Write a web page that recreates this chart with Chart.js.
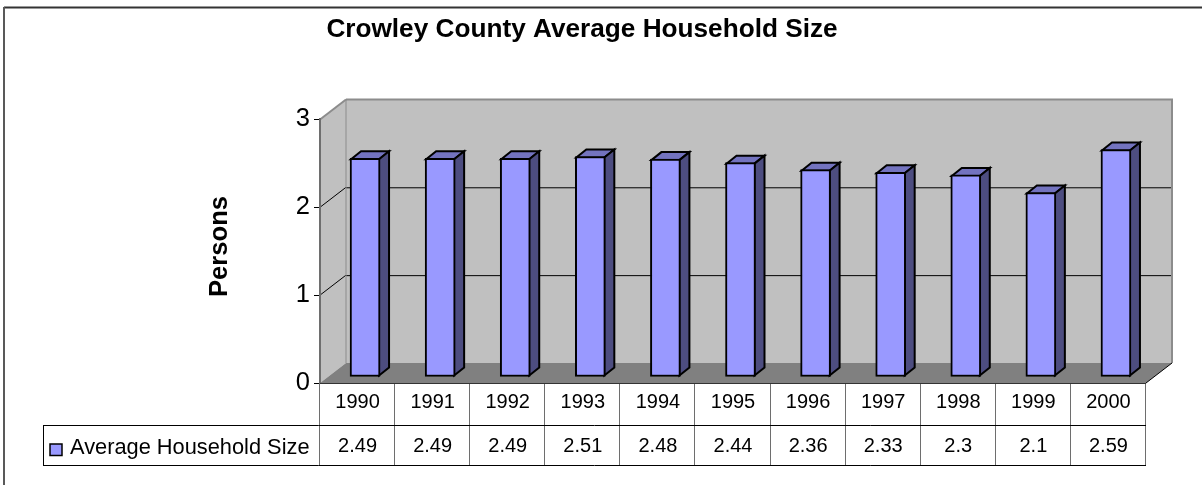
<!DOCTYPE html>
<html>
<head>
<meta charset="utf-8">
<title>Crowley County Average Household Size</title>
<script src="https://cdn.jsdelivr.net/npm/chart.js@4"></script>
<style>
  html, body { margin: 0; padding: 0; background: #fff; overflow: hidden; }
  canvas { display: block; }
</style>
</head>
<body>
<canvas id="myChart" width="1202" height="485"></canvas>
<script>
const years = ['1990', '1991', '1992', '1993', '1994', '1995', '1996', '1997', '1998', '1999', '2000'];
const householdSize = [2.49, 2.49, 2.49, 2.51, 2.48, 2.44, 2.36, 2.33, 2.3, 2.1, 2.59];
const valueLabels = ['2.49', '2.49', '2.49', '2.51', '2.48', '2.44', '2.36', '2.33', '2.3', '2.1', '2.59'];
const yTicks = [0, 1, 2, 3];
const seriesName = 'Average Household Size';

const FONT = '"Liberation Sans", Arial, sans-serif';
// wall depth of the fake 3D box, and how far the bars sit inside it
const DEPTH_X = 26, DEPTH_Y = -20;
const BAR_DX = 7.5, BAR_DY = -6;
const BAR_SIDE_X = 10, BAR_SIDE_Y = -8;

function poly(ctx, pts, fill, stroke, lw) {
  ctx.beginPath();
  pts.forEach((p, i) => i ? ctx.lineTo(p[0], p[1]) : ctx.moveTo(p[0], p[1]));
  ctx.closePath();
  if (fill) { ctx.fillStyle = fill; ctx.fill(); }
  if (stroke) { ctx.strokeStyle = stroke; ctx.lineWidth = lw; ctx.stroke(); }
}

function line(ctx, x1, y1, x2, y2, color, lw) {
  ctx.beginPath();
  ctx.moveTo(x1, y1);
  ctx.lineTo(x2, y2);
  ctx.strokeStyle = color;
  ctx.lineWidth = lw;
  ctx.stroke();
}

const box3d = {
  id: 'box3d',
  beforeDraw(chart) {
    const { ctx, scales: { x, y } } = chart;
    const l = x.left, r = x.right;
    const top = y.getPixelForValue(3), bot = y.getPixelForValue(0);
    ctx.save();
    // outer frame, only the top and left edges are in the picture
    ctx.fillStyle = '#fff';
    ctx.fillRect(0, 0, chart.width, chart.height);
    line(ctx, 4, 7.5, chart.width, 7.5, '#333', 2);
    line(ctx, 4, 7, 4, chart.height, '#595959', 2);

    // walls and floor
    poly(ctx, [[l + DEPTH_X, top + DEPTH_Y], [r + DEPTH_X, top + DEPTH_Y], [r + DEPTH_X, bot + DEPTH_Y], [l + DEPTH_X, bot + DEPTH_Y]], '#c0c0c0');
    poly(ctx, [[l, top], [l + DEPTH_X, top + DEPTH_Y], [l + DEPTH_X, bot + DEPTH_Y], [l, bot]], '#c0c0c0');
    poly(ctx, [[l, bot], [r, bot], [r + DEPTH_X, bot + DEPTH_Y], [l + DEPTH_X, bot + DEPTH_Y]], '#808080');

    // gridlines, on the side wall then the back wall
    yTicks.filter(v => v > 0 && v < 3).forEach(v => {
      const py = y.getPixelForValue(v);
      line(ctx, l, py, l + DEPTH_X, py + DEPTH_Y, '#000', 1);
      line(ctx, l + DEPTH_X, py + DEPTH_Y + 0.5, r + DEPTH_X, py + DEPTH_Y + 0.5, '#000', 1);
    });

    // wall outlines
    line(ctx, l, top, l + DEPTH_X, top + DEPTH_Y, '#8c8c8c', 2);
    line(ctx, l + DEPTH_X, top + DEPTH_Y, r + DEPTH_X + 1, top + DEPTH_Y, '#8c8c8c', 2);
    line(ctx, r + DEPTH_X, top + DEPTH_Y, r + DEPTH_X, bot + DEPTH_Y, '#8c8c8c', 2);
    line(ctx, l + DEPTH_X, top + DEPTH_Y, l + DEPTH_X, bot + DEPTH_Y, '#8c8c8c', 1);
    line(ctx, r, bot, r + DEPTH_X, bot + DEPTH_Y, '#000', 1);
    ctx.restore();
  },
  beforeDatasetsDraw(chart) {
    const { ctx } = chart;
    ctx.save();
    ctx.translate(BAR_DX, BAR_DY);
    chart.getDatasetMeta(0).data.forEach(bar => {
      const x0 = bar.x - bar.width / 2 + 1, x1 = bar.x + bar.width / 2 - 1;
      const yt = bar.y + 1, yb = bar.base - 1;
      ctx.lineJoin = 'miter';
      poly(ctx, [[x0, yt], [x1, yt], [x1 + BAR_SIDE_X, yt + BAR_SIDE_Y], [x0 + BAR_SIDE_X, yt + BAR_SIDE_Y]], '#7373bf', '#000', 2);
      poly(ctx, [[x1, yt], [x1 + BAR_SIDE_X, yt + BAR_SIDE_Y], [x1 + BAR_SIDE_X, yb + BAR_SIDE_Y], [x1, yb]], '#4d4d80', '#000', 2);
    });
  },
  afterDatasetsDraw(chart) {
    chart.ctx.restore();
  },
  afterDraw(chart) {
    const { ctx, scales: { x, y } } = chart;
    const l = x.left, r = x.right, bot = y.getPixelForValue(0);
    const row1 = 425, row2 = 465, tableLeft = 43;
    const colWidth = (r - l) / years.length;
    ctx.save();
    // data table lines
    for (let i = 0; i <= years.length; i++) {
      const px = Math.round(l + colWidth * i) - 0.5;
      line(ctx, px, bot, px, row2, '#6e6e6e', 1);
    }
    line(ctx, l, bot + 0.5, r, bot + 0.5, '#333', 1);
    line(ctx, tableLeft, row1 + 0.5, r, row1 + 0.5, '#000', 1);
    line(ctx, tableLeft, row2 + 0.5, r, row2 + 0.5, '#000', 1);
    line(ctx, tableLeft + 0.5, row1, tableLeft + 0.5, row2, '#000', 1);

    // legend key and series name
    ctx.fillStyle = '#9999ff';
    ctx.fillRect(50, 444, 12, 11.5);
    ctx.strokeStyle = '#000';
    ctx.lineWidth = 1.5;
    ctx.strokeRect(50, 444, 12, 11.5);
    ctx.fillStyle = '#000';
    ctx.font = '21.8px ' + FONT;
    ctx.textAlign = 'left';
    ctx.textBaseline = 'middle';
    ctx.fillText(seriesName, 70, 448);

    // axis title, drawn here because the scale title can only centre on the axis
    ctx.translate(219.5, 246.5);
    ctx.rotate(-Math.PI / 2);
    ctx.font = 'bold 25.6px ' + FONT;
    ctx.textAlign = 'center';
    ctx.fillText('Persons', 0, 0);
    ctx.restore();
  }
};

new Chart(document.getElementById('myChart'), {
  type: 'bar',
  data: {
    labels: years,
    datasets: [{
      label: seriesName,
      data: householdSize,
      backgroundColor: '#9999ff',
      borderColor: '#000',
      borderWidth: 2,
      borderSkipped: false,
      barThickness: 30,
      clip: false
    }]
  },
  options: {
    responsive: false,
    animation: false,
    devicePixelRatio: 1,
    layout: { padding: { left: 18, right: 56, top: 0, bottom: 0 } },
    plugins: {
      legend: { display: false },
      tooltip: { enabled: false },
      title: {
        display: true,
        text: 'Crowley County Average Household Size',
        color: '#000',
        font: { family: FONT, size: 26.2, weight: 'bold', lineHeight: 1.2 },
        padding: { top: 14.5, bottom: 73.5 }
      }
    },
    scales: {
      x: {
        afterFit: s => { s.height = 102; },
        grid: { display: false, drawTicks: false },
        border: { display: false },
        ticks: {
          color: '#000',
          maxRotation: 0,
          autoSkip: false,
          padding: -3,
          font: { family: FONT, size: 20, lineHeight: 2.2 },
          callback: (v, i) => [years[i], valueLabels[i]]
        }
      },
      y: {
        min: 0,
        max: 3,
        afterFit: s => { s.width = 302; },
        afterBuildTicks: s => { s.ticks = yTicks.map(v => ({ value: v })); },
        grid: { drawOnChartArea: false, color: '#000', tickLength: 6 },
        border: { color: '#6e6e6e', width: 2 },
        ticks: {
          color: '#000',
          padding: 4,
          font: { family: FONT, size: 25.5 }
        }
      }
    }
  },
  plugins: [box3d]
});
</script>
</body>
</html>
